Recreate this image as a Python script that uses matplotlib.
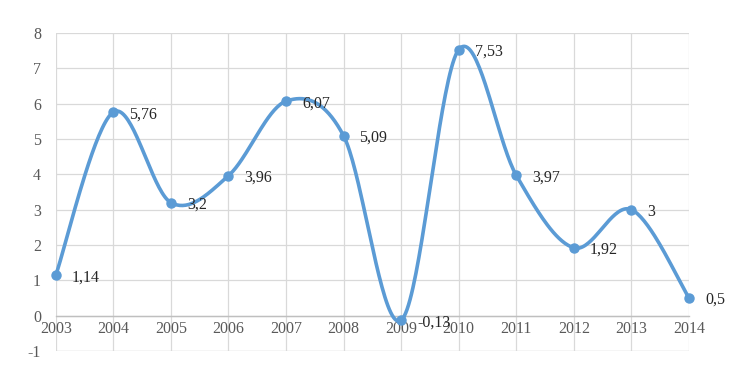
import matplotlib
matplotlib.use("Agg")
import matplotlib.pyplot as plt
import numpy as np

years = [2003, 2004, 2005, 2006, 2007, 2008, 2009, 2010, 2011, 2012, 2013, 2014]
values = [1.14, 5.76, 3.2, 3.96, 6.07, 5.09, -0.13, 7.53, 3.97, 1.92, 3.0, 0.5]
labels = ["1,14", "5,76", "3,2", "3,96", "6,07", "5,09", "-0,13", "7,53", "3,97", "1,92", "3", "0,5"]

plt.rcParams['font.family'] = ['Liberation Serif', 'DejaVu Serif']
plt.rcParams['axes.unicode_minus'] = False
blue = '#5b9bd5'
grid_c = '#d9d9d9'
text_c = '#595959'


def smooth(x, y, n=40):
    # Excel-like smoothed line: Catmull-Rom as cubic Bezier segments
    x = np.asarray(x, float)
    y = np.asarray(y, float)
    px = np.concatenate([[x[0]], x, [x[-1]]])
    py = np.concatenate([[y[0]], y, [y[-1]]])
    xs, ys = [], []
    t = np.linspace(0, 1, n)
    for i in range(1, len(px) - 2):
        p0 = np.array([px[i], py[i]])
        p3 = np.array([px[i + 1], py[i + 1]])
        c1 = p0 + (p3 - np.array([px[i - 1], py[i - 1]])) / 6
        c2 = p3 - (np.array([px[i + 2], py[i + 2]]) - p0) / 6
        pts = ((1 - t) ** 3)[:, None] * p0 + (3 * (1 - t) ** 2 * t)[:, None] * c1 \
            + (3 * (1 - t) * t ** 2)[:, None] * c2 + (t ** 3)[:, None] * p3
        xs.append(pts[:, 0])
        ys.append(pts[:, 1])
    return np.concatenate(xs), np.concatenate(ys)


fig = plt.figure(figsize=(7.55, 3.89), dpi=100)
ax = fig.add_axes([0.0738, 0.0977, 0.8388, 0.8175])

sx, sy = smooth(years, values)
ax.plot(sx, sy, color=blue, lw=2.6, solid_capstyle='round', zorder=3, clip_on=False)
ax.plot(years, values, 'o', color=blue, ms=6.5, zorder=4, clip_on=False)

for x, y, lab in zip(years, values, labels):
    ax.annotate(lab, (x, y), xytext=(11.5, -1.5), textcoords='offset points',
                ha='left', va='center', fontsize=11.5, color='#262626', zorder=5)

ax.set_xlim(2003, 2014)
ax.set_ylim(-1, 8)
ax.set_yticks(range(-1, 9))
ax.set_xticks(years)
ax.grid(True, color=grid_c, lw=0.9)
ax.set_axisbelow(True)

for s in ['top', 'right', 'left']:
    ax.spines[s].set_visible(False)
ax.spines['bottom'].set_position(('data', 0))
ax.spines['bottom'].set_color('#bfbfbf')
ax.spines['bottom'].set_linewidth(1.0)

ax.tick_params(axis='x', length=0, pad=4, labelsize=11.5, colors=text_c)
ax.tick_params(axis='y', length=0, pad=10.5, labelsize=11.5, colors=text_c)

# bottom border of plot area at -1
ax.axhline(-1, color=grid_c, lw=0.9, zorder=0)

fig.savefig('out.png', dpi=100)
